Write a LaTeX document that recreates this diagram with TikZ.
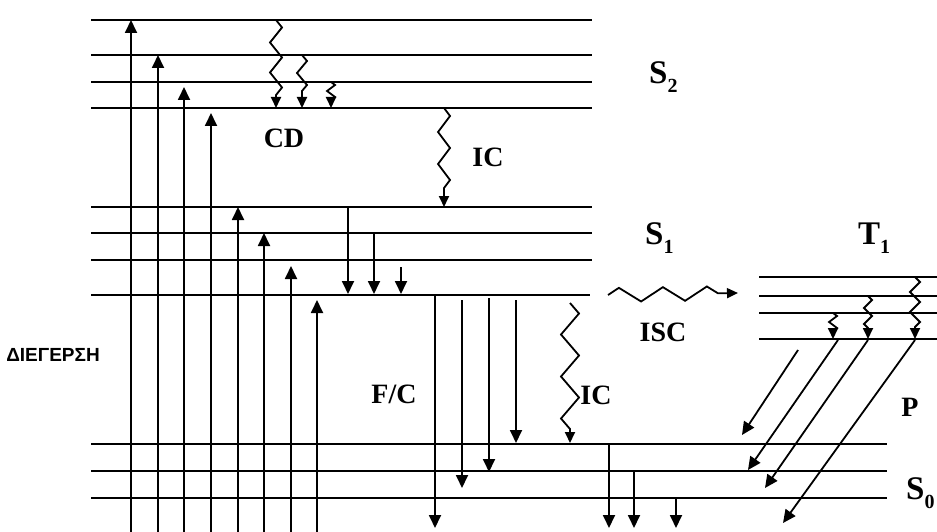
\documentclass[tikz,border=0pt]{standalone}
\usepackage{fontspec}
\setmainfont{Liberation Serif}
\newfontfamily\grfont{Liberation Sans}
\usetikzlibrary{arrows.meta,decorations.pathmorphing}
\newcommand{\lvsub}[1]{\raisebox{-9pt}{\fontsize{20}{20}\selectfont #1}}

\begin{document}
\begin{tikzpicture}[
    x=1pt, y=-1pt,
    level/.style={line width=2pt},
    trans/.style={line width=1.8pt, -{Triangle[length=13pt,width=12pt]}},
    wavy/.style 2 args={line width=1.8pt, -{Triangle[length=11pt,width=10pt]}, decorate,
        decoration={zigzag, segment length=#1, amplitude=#2, post length=8pt}},
    state/.style={font=\fontsize{33}{33}\selectfont\bfseries, inner sep=0pt, anchor=base west},
    lbl/.style={font=\fontsize{28}{28}\selectfont\bfseries, inner sep=0pt, anchor=base}
]
    \useasboundingbox (0,0) rectangle (937,532);

    % levels S2, S1, S0, T1
    \foreach \y in {20,55,82,108,207,233,260}
        \draw[level] (91,\y) -- (592,\y);
    \draw[level] (91,295) -- (590,295);
    \foreach \y in {444,471,498}
        \draw[level] (91,\y) -- (887,\y);
    \foreach \y in {277,296,313,339}
        \draw[level] (759,\y) -- (937,\y);

    % excitation
    \foreach \x/\y in {131/20,158/55,184/87,211/113,238/207,264/233,291/266,317/300}
        \draw[trans] (\x,532) -- (\x,\y);

    % cascade in S1
    \foreach \x/\y in {348/207,374/233,401/267}
        \draw[trans] (\x,\y) -- (\x,294);

    % fluorescence
    \foreach \x/\a/\b in {435/295/528,462/300/488,489/298/472,516/300/443}
        \draw[trans] (\x,\a) -- (\x,\b);
    \foreach \x/\a in {609/444,634/472,676/498}
        \draw[trans] (\x,\a) -- (\x,528);

    % phosphorescence
    \draw[trans] (798,350) -- (742,435);
    \draw[trans] (838,340) -- (748,470);
    \draw[trans] (868,340) -- (765,488);
    \draw[trans] (915,340) -- (783,523);

    % wavy transitions
    \draw[wavy={30pt}{6pt}] (276,20) -- (276,108);
    \draw[wavy={24pt}{5pt}] (302,55) -- (302,108);
    \draw[wavy={12pt}{4pt}] (331,82) -- (331,108);
    \draw[wavy={32pt}{6pt}] (444,108) -- (444,207);
    \draw[wavy={42pt}{9pt}] (570,303) -- (570,443);
    \draw[wavy={44pt}{7pt}] (608,295) -- (738,293);
    \draw[wavy={12pt}{4pt}] (833,313) -- (833,339);
    \draw[wavy={16pt}{4pt}] (868,296) -- (868,339);
    \draw[wavy={20pt}{5pt}] (915,277) -- (915,339);

    % labels
    \node[state] (s2) at (649,84) {S\lvsub{2}};
    \node[state] (s1) at (645,244) {S\lvsub{1}};
    \node[state] (t1) at (858,244) {T\lvsub{1}};
    \node[state] (s0) at (906,499) {S\lvsub{0}};
    \node[lbl] (cd) at (284,148) {CD};
    \node[lbl] (ic1) at (488,166) {IC};
    \node[lbl] (fc) at (394,403) {F/C};
    \node[lbl] (ic2) at (596,404) {IC};
    \node[lbl] (isc) at (663,341) {ISC};
    \node[lbl] (p) at (910,416) {P};
    \node[font=\grfont\fontsize{19}{19}\selectfont\bfseries, inner sep=0pt, anchor=base] (exc) at (53,361) {ΔΙΕΓΕΡΣΗ};
\end{tikzpicture}
\end{document}
